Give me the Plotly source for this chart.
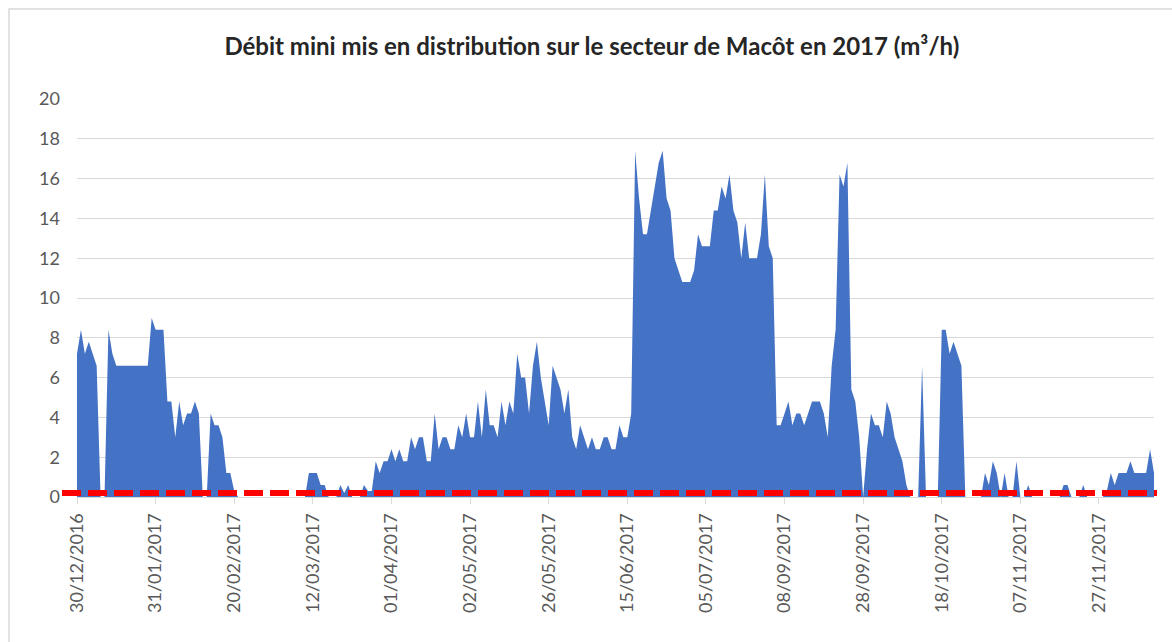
import plotly.graph_objects as go

# ---- data ----
title_text = "Débit mini mis en distribution sur le secteur de Macôt en 2017 (m³/h)"

tick_labels = [
    "30/12/2016", "31/01/2017", "20/02/2017", "12/03/2017", "01/04/2017",
    "02/05/2017", "26/05/2017", "15/06/2017", "05/07/2017", "08/09/2017",
    "28/09/2017", "18/10/2017", "07/11/2017", "27/11/2017",
]
label_step = 20  # one date label every 20 categories

debit = [
    7.2, 8.4, 7.2, 7.8, 7.2, 6.6, 0, 0, 8.4, 7.2, 6.6, 6.6, 6.6, 6.6, 6.6, 6.6, 6.6, 6.6, 6.6, 9.0,
    8.4, 8.4, 8.4, 4.8, 4.8, 3.0, 4.8, 3.6, 4.2, 4.2, 4.8, 4.2, 0, 0, 4.2, 3.6, 3.6, 3.0, 1.2, 1.2,
    0.3, 0, 0, 0, 0, 0, 0, 0, 0, 0, 0, 0, 0, 0, 0, 0, 0, 0, 0, 1.2,
    1.2, 1.2, 0.6, 0.6, 0, 0, 0, 0.6, 0.2, 0.6, 0, 0, 0, 0.6, 0.3, 0.3, 1.8, 1.2, 1.8, 1.8,
    2.4, 1.8, 2.4, 1.8, 1.8, 3.0, 2.4, 3.0, 3.0, 1.8, 1.8, 4.2, 2.4, 3.0, 3.0, 2.4, 2.4, 3.6, 3.0, 4.2,
    3.0, 3.0, 4.8, 3.0, 5.4, 3.6, 3.6, 3.0, 4.8, 3.6, 4.8, 4.2, 7.2, 6.0, 6.0, 4.2, 6.6, 7.8, 6.0, 4.8,
    3.6, 6.6, 6.0, 5.4, 4.2, 5.4, 3.0, 2.4, 3.6, 3.0, 2.4, 3.0, 2.4, 2.4, 3.0, 3.0, 2.4, 2.4, 3.6, 3.0,
    3.0, 4.2, 17.4, 15.0, 13.2, 13.2, 14.4, 15.6, 16.8, 17.4, 15.0, 14.4, 12.0, 11.4, 10.8, 10.8, 10.8, 11.4, 13.2, 12.6,
    12.6, 12.6, 14.4, 14.4, 15.6, 15.0, 16.2, 14.4, 13.8, 12.0, 13.8, 12.0, 12.0, 12.0, 13.2, 16.2, 12.6, 12.0, 3.6, 3.6,
    4.2, 4.8, 3.6, 4.2, 4.2, 3.6, 4.2, 4.8, 4.8, 4.8, 4.2, 3.0, 6.6, 8.4, 16.2, 15.6, 16.8, 5.4, 4.8, 3.0,
    0, 2.4, 4.2, 3.6, 3.6, 3.0, 4.8, 4.2, 3.0, 2.4, 1.8, 0.6, 0, 0, 0, 6.6, 0, 0, 0, 0,
    8.4, 8.4, 7.2, 7.8, 7.2, 6.6, 0, 0, 0, 0, 0, 1.2, 0.6, 1.8, 1.2, 0, 1.2, 0, 0, 1.8,
    0, 0, 0.6, 0, 0, 0, 0, 0, 0, 0, 0, 0.6, 0.6, 0, 0, 0, 0.6, 0, 0, 0,
    0, 0, 0.3, 1.2, 0.6, 1.2, 1.2, 1.2, 1.8, 1.2, 1.2, 1.2, 1.2, 2.4, 1.2,
]
seuil = 0.2  # red dashed threshold line

y_ticks = [0, 2, 4, 6, 8, 10, 12, 14, 16, 18, 20]

# ---- figure ----
W, H = 1172, 642
ML, MR, MT, MB = 77, 18, 99, 145
PW, PH = W - ML - MR, H - MT - MB

x = list(range(len(debit)))
tickvals = [i * label_step for i in range(len(tick_labels))]

FONT = "Lato, Carlito, Calibri, 'Open Sans', sans-serif"

fig = go.Figure()
fig.add_trace(go.Scatter(
    x=x, y=debit, mode="lines", fill="tozeroy",
    fillcolor="#4472C4", line=dict(color="#4472C4", width=0),
    hoverinfo="skip", showlegend=False,
))


def px_to_paper_x(px):
    return (px - ML) / PW


def px_to_paper_y(py):
    return (H - MB - py) / PH


shapes = [
    # red dashed threshold line (extends slightly past the plot area as in the original)
    dict(type="line", xref="paper", yref="y",
         x0=px_to_paper_x(62), x1=px_to_paper_x(1157), y0=seuil, y1=seuil,
         line=dict(color="#FF0000", width=6, dash="19px,7px"), layer="above"),
    # light chart-area border
    dict(type="rect", xref="paper", yref="paper",
         x0=px_to_paper_x(9), x1=px_to_paper_x(1190),
         y0=px_to_paper_y(660), y1=px_to_paper_y(9),
         line=dict(color="#D9D9D9", width=1.5), fillcolor="rgba(0,0,0,0)", layer="below"),
]

fig.update_layout(
    width=W, height=H,
    margin=dict(l=ML, r=MR, t=MT, b=MB, pad=0),
    paper_bgcolor="white", plot_bgcolor="white",
    font=dict(family=FONT, color="#595959", size=18),
    title=dict(text="<b>" + title_text + "</b>", x=0.505, xanchor="center",
               y=1 - 47 / H, yanchor="middle",
               font=dict(family=FONT, size=24, color="#262626")),
    shapes=shapes,
    xaxis=dict(
        range=[0, len(debit) - 1],
        tickmode="array", tickvals=tickvals, ticktext=tick_labels,
        tickangle=-90, ticks="outside", ticklen=6, tickcolor="#D9D9D9", tickwidth=1,
        showline=True, linecolor="#D9D9D9", linewidth=1,
        showgrid=False, zeroline=False,
        tickfont=dict(family=FONT, size=18, color="#595959"),
        ticklabelstandoff=2,
    ),
    yaxis=dict(
        range=[0, 20], tickmode="array", tickvals=y_ticks,
        showgrid=True, gridcolor="#D9D9D9", gridwidth=1,
        zeroline=False, showline=False, ticks="",
        tickfont=dict(family=FONT, size=18, color="#595959"),
        ticklabelstandoff=16,
    ),
)

fig.write_html(
    "out.html",
    config={"displayModeBar": False},
    post_script="document.body.style.margin='0';document.body.style.overflow='hidden';",
)
